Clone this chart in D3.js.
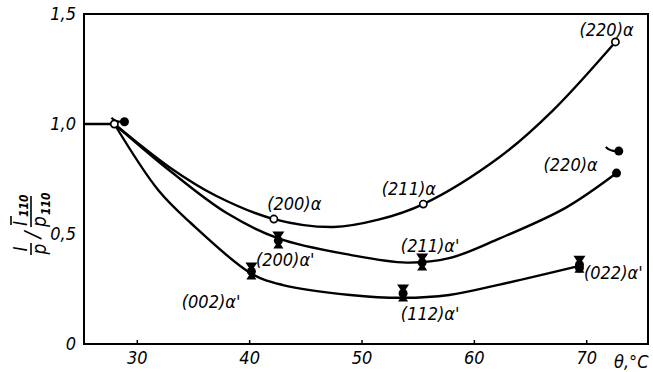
<!DOCTYPE html>
<html>
<head>
<meta charset="utf-8">
<script src="https://cdn.jsdelivr.net/npm/d3@7"></script>
<style>
  html, body { margin: 0; padding: 0; background: #fff; }
  svg { display: block; }
  text { font-family: "DejaVu Sans Condensed", "DejaVu Sans", sans-serif; font-style: italic; fill: #000; }
</style>
</head>
<body>
<svg id="chart" width="653" height="372"></svg>
<script>
// Relative intensity of ferrite (α) and martensite (α') reflections vs. temperature θ, °C

const xTicks = [30, 40, 50, 60, 70];
const yTicks = [0, 0.5, 1.0, 1.5];

// Measured points, open circles: α reflections
const alphaPoints = [[28.0, 1.0], [42.2, 0.568], [55.5, 0.636], [72.6, 1.373]];
// Measured points, filled markers: α' reflections
const alphaPrimePoints = [[40.2, 0.33], [42.6, 0.47], [53.7, 0.23], [55.4, 0.37], [69.4, 0.36]];
const alphaPrimeDots = [[72.7, 0.777], [69.4, 0.345]];
const shiftedPoints = [[28.9, 1.01], [72.9, 0.877]];

// Smoothed curves drawn through the measurements
const curveAlpha = [[28.0, 1.0], [33.0, 0.80], [37.0, 0.675], [42.2, 0.568], [47.5, 0.532], [51.5, 0.565], [55.5, 0.636], [62.3, 0.85], [67.0, 1.06], [72.6, 1.373]];
const curveAlphaPrime = [[28.0, 1.0], [33.0, 0.785], [38.0, 0.595], [42.6, 0.48], [49.0, 0.405], [54.0, 0.37], [57.8, 0.39], [62.3, 0.48], [68.2, 0.62], [72.7, 0.777]];
const curveLower = [[28.0, 1.0], [31.9, 0.70], [34.8, 0.55], [40.2, 0.32], [43.0, 0.268], [49.0, 0.223], [53.7, 0.21], [57.8, 0.223], [62.3, 0.27], [69.4, 0.355]];
const leadIn = [[25.3, 1.0], [28.0, 1.0]];

// Reflection labels: text, x, y (data units, left/baseline)
const labelText = ["(200)α", "(211)α", "(220)α", "(200)α'", "(211)α'", "(220)α", "(002)α'", "(112)α'", "(022)α'"];
const labelX = [41.6, 51.8, 69.4, 40.6, 53.5, 66.2, 34.0, 53.5, 69.8];
const labelY = [0.61, 0.677, 1.40, 0.355, 0.42, 0.786, 0.164, 0.11, 0.295];

const svg = d3.select("#chart");
const x = d3.scaleLinear().domain([25.3, 75.5]).range([84, 648]);
const y = d3.scaleLinear().domain([0, 1.5]).range([344, 14]);

// frame
svg.append("rect")
  .attr("x", x(25.3)).attr("y", y(1.5))
  .attr("width", x(75.5) - x(25.3)).attr("height", y(0) - y(1.5))
  .attr("fill", "none").attr("stroke", "#000").attr("stroke-width", 2);

// x axis
const gx = svg.append("g").attr("transform", `translate(0,${y(0)})`)
  .call(d3.axisBottom(x).tickValues(xTicks).tickSize(-4).tickPadding(12).tickFormat(d3.format("d")));
gx.select(".domain").remove();
gx.selectAll(".tick line").attr("stroke", "#000").attr("stroke-width", 1.5);
gx.selectAll(".tick text").attr("font-size", 18).attr("dy", "0.45em");

svg.append("text").attr("x", 614).attr("y", 368).attr("font-size", 18).text("θ,°C");

// y axis
const gy = svg.append("g").attr("transform", `translate(${x(25.3)},0)`)
  .call(d3.axisLeft(y).tickValues(yTicks).tickSize(0).tickPadding(8)
    .tickFormat(d => d === 0 ? "0" : d3.format(".1f")(d).replace(".", ",")));
gy.select(".domain").remove();
gy.selectAll(".tick text").attr("font-size", 18);

// y-axis title: (I/p) / (Ī110/p110), written bottom-to-top
const yt = svg.append("g").attr("transform", "translate(31,222) rotate(-90)");
const stroke = sel => sel.attr("stroke", "#000").attr("stroke-width", 1.6);
yt.append("line").attr("x1", -33).attr("x2", -21).attr("y1", 0).attr("y2", 0).call(stroke);
yt.append("text").attr("x", -27).attr("y", -4).attr("text-anchor", "middle").attr("font-size", 19).text("I");
yt.append("text").attr("x", -27).attr("y", 15).attr("text-anchor", "middle").attr("font-size", 19).text("p");
yt.append("text").attr("x", -13).attr("y", 9).attr("text-anchor", "middle").attr("font-size", 22).text("/");
yt.append("line").attr("x1", -5).attr("x2", 26).attr("y1", 0).attr("y2", 0).call(stroke);
yt.append("line").attr("x1", -3).attr("x2", 6).attr("y1", -20).attr("y2", -20).call(stroke);
yt.append("text").attr("x", -4).attr("y", -4).attr("font-size", 19).text("I");
yt.append("text").attr("x", 5).attr("y", -3).attr("font-size", 12).attr("font-weight", "bold").text("110");
yt.append("text").attr("x", -5).attr("y", 15).attr("font-size", 19).text("p");
yt.append("text").attr("x", 7).attr("y", 19).attr("font-size", 12).attr("font-weight", "bold").text("110");

// curves
const line = d3.line().x(d => x(d[0])).y(d => y(d[1])).curve(d3.curveCatmullRom.alpha(0.5));
[curveAlpha, curveAlphaPrime, curveLower, leadIn].forEach(c => {
  svg.append("path").attr("d", line(c)).attr("fill", "none")
    .attr("stroke", "#000").attr("stroke-width", 2.4).attr("stroke-linecap", "round");
});

// α' markers: dot with hourglass wings
const mk = svg.append("g");
alphaPrimePoints.forEach(([px, py]) => {
  const cx = x(px), cy = y(py);
  mk.append("path")
    .attr("d", `M${cx - 6},${cy - 9}L${cx + 6},${cy - 9}L${cx},${cy}Z M${cx - 5},${cy + 8}L${cx + 5},${cy + 8}L${cx},${cy}Z`)
    .attr("fill", "#000");
  mk.append("circle").attr("cx", cx).attr("cy", cy).attr("r", 4.5).attr("fill", "#000");
});
alphaPrimeDots.forEach(([px, py]) => {
  mk.append("circle").attr("cx", x(px)).attr("cy", y(py)).attr("r", 4.5).attr("fill", "#000");
});
shiftedPoints.forEach(([px, py]) => {
  const cx = x(px), cy = y(py);
  mk.append("path").attr("d", `M${cx - 13},${cy - 4}Q${cx - 8},${cy + 1} ${cx},${cy}`)
    .attr("fill", "none").attr("stroke", "#000").attr("stroke-width", 2.2);
  mk.append("circle").attr("cx", cx).attr("cy", cy).attr("r", 4.5).attr("fill", "#000");
});

// α markers: open circles
mk.selectAll("circle.alpha").data(alphaPoints).join("circle")
  .attr("class", "alpha")
  .attr("cx", d => x(d[0])).attr("cy", d => y(d[1])).attr("r", 3.6)
  .attr("fill", "#fff").attr("stroke", "#000").attr("stroke-width", 1.7);

// reflection labels
svg.append("g").selectAll("text").data(labelText).join("text")
  .attr("x", (d, i) => x(labelX[i])).attr("y", (d, i) => y(labelY[i]))
  .attr("font-size", 18).text(d => d);
</script>
</body>
</html>
